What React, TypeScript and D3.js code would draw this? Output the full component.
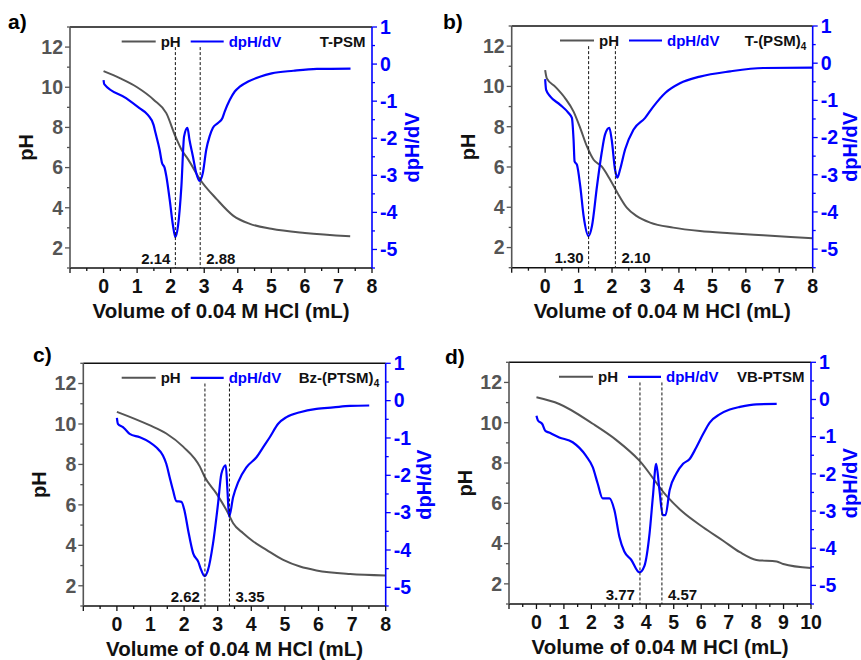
import React from 'react';
import * as d3 from 'd3';

const FONT = '"Liberation Sans", Arial, Helvetica, sans-serif';
const GRAY = '#555555';
const BLUE = '#0000ff';

// ---------- Panel a: T-PSM ----------
const phVolA = [0, 0.5, 1.0, 1.5, 1.87, 2.14, 2.32, 2.52, 2.87, 3.37, 3.86, 4.36, 5.0, 6.0, 7.35];
const phA = [10.8, 10.44, 10.0, 9.37, 8.71, 7.56, 6.9, 6.41, 5.42, 4.43, 3.61, 3.2, 2.95, 2.74, 2.58];
const dVolA = [0, 0.02, 0.67, 1.07, 1.32, 1.49, 1.55, 1.67, 1.74, 1.82, 1.87, 1.97, 2.07, 2.14, 2.22, 2.32, 2.4, 2.5, 2.56, 2.66, 2.76, 2.86, 2.96, 3.06, 3.16, 3.26, 3.41, 3.54, 3.61, 3.76, 3.91, 4.06, 4.31, 4.66, 5.01, 5.66, 6.36, 7.36];
const dA = [-0.43, -0.54, -0.92, -1.19, -1.37, -1.64, -1.86, -2.31, -2.66, -2.8, -3.02, -3.65, -4.36, -4.67, -4.36, -3.29, -1.95, -1.72, -2.04, -2.48, -2.93, -3.15, -2.93, -2.31, -1.95, -1.72, -1.59, -1.46, -1.28, -0.97, -0.74, -0.61, -0.47, -0.34, -0.25, -0.18, -0.13, -0.12];
const eqA = [2.14, 2.88];

// ---------- Panel b: T-(PSM)4 ----------
const phVolB = [0, 0.05, 0.3, 0.6, 0.85, 1.05, 1.25, 1.45, 1.69, 1.94, 2.16, 2.44, 2.74, 3.14, 3.83, 4.63, 5.53, 6.52, 8.0];
const phB = [10.81, 10.4, 9.99, 9.41, 8.75, 7.93, 7.02, 6.36, 6.03, 5.38, 4.72, 3.98, 3.56, 3.24, 2.99, 2.82, 2.71, 2.61, 2.46];
const dVolB = [0, 0.03, 0.15, 0.45, 0.7, 0.8, 0.85, 0.88, 0.95, 1.05, 1.15, 1.3, 1.4, 1.55, 1.69, 1.79, 1.92, 1.99, 2.09, 2.16, 2.24, 2.39, 2.64, 2.99, 3.24, 3.59, 4.03, 4.63, 5.53, 6.52, 8.0];
const dB = [-0.43, -0.72, -0.89, -1.12, -1.34, -1.47, -2.06, -2.64, -2.73, -3.31, -4.11, -4.65, -4.38, -3.31, -2.41, -1.92, -1.74, -2.06, -2.86, -3.08, -2.86, -2.32, -1.79, -1.47, -1.16, -0.8, -0.54, -0.36, -0.22, -0.13, -0.12];
const eqB = [1.3, 2.1];

// ---------- Panel c: Bz-(PTSM)4 ----------
const phVolC = [0, 0.97, 1.47, 1.97, 2.47, 2.61, 2.96, 3.31, 3.46, 3.76, 4.06, 4.45, 4.95, 5.45, 5.94, 6.94, 7.98];
const phC = [10.6, 9.94, 9.53, 8.88, 7.89, 7.39, 6.57, 5.59, 5.09, 4.6, 4.19, 3.78, 3.28, 2.95, 2.76, 2.58, 2.51];
const dVolC = [0, 0.03, 0.18, 0.28, 0.38, 0.68, 0.97, 1.17, 1.37, 1.47, 1.57, 1.67, 1.77, 1.92, 2.02, 2.12, 2.27, 2.42, 2.51, 2.61, 2.71, 2.86, 3.01, 3.11, 3.24, 3.29, 3.34, 3.46, 3.61, 3.86, 4.16, 4.35, 4.55, 4.8, 5.05, 5.45, 5.94, 6.44, 6.94, 7.51];
const dC = [-0.46, -0.62, -0.71, -0.8, -0.89, -0.98, -1.11, -1.25, -1.47, -1.69, -2.05, -2.4, -2.69, -2.71, -2.98, -3.47, -4.09, -4.31, -4.54, -4.7, -4.54, -3.83, -2.76, -1.96, -1.73, -2.4, -3.11, -2.58, -2.18, -1.78, -1.51, -1.25, -0.98, -0.62, -0.44, -0.31, -0.22, -0.18, -0.14, -0.13];
const eqC = [2.62, 3.35];

// ---------- Panel d: VB-PTSM ----------
const phVolD = [0, 0.83, 2.05, 2.9, 3.75, 4.73, 5.3, 6.07, 6.8, 7.41, 8.01, 8.75, 8.99, 10.0];
const phD = [11.26, 10.93, 9.95, 9.15, 8.12, 6.38, 5.6, 4.81, 4.14, 3.57, 3.19, 3.11, 2.99, 2.79];
const dVolD = [0, 0.05, 0.22, 0.32, 0.46, 0.83, 1.32, 1.8, 2.05, 2.23, 2.41, 2.66, 2.84, 3.02, 3.2, 3.45, 3.75, 3.93, 4.12, 4.24, 4.36, 4.48, 4.6, 4.7, 4.85, 5.09, 5.34, 5.58, 5.82, 6.07, 6.31, 6.67, 7.04, 7.41, 8.01, 8.75];
const dD = [-0.44, -0.56, -0.67, -0.84, -0.89, -1.02, -1.15, -1.51, -1.82, -2.26, -2.66, -2.66, -2.98, -3.69, -4.09, -4.31, -4.65, -4.48, -3.6, -2.62, -1.73, -2.44, -3.11, -3.11, -2.44, -2.0, -1.73, -1.6, -1.29, -0.93, -0.62, -0.4, -0.27, -0.2, -0.13, -0.12];
const eqD = [3.77, 4.57];

const phTicks = d3.range(1, 13.001, 1);
const dTicks = d3.range(-5.5, 1.001, 0.5);

type Box = { l: number; r: number; t: number; b: number };
type Spec = {
  tag: string;
  sample: string;
  sub: string;
  xMax: number;
  phVol: number[];
  ph: number[];
  dVol: number[];
  d: number[];
  eq: number[];
  box: Box;
  tagPos: [number, number];
  legendX: number;
  rTitle: number;
};

const panels: Spec[] = [
  { tag: 'a)', sample: 'T-PSM', sub: '', xMax: 8, phVol: phVolA, ph: phA, dVol: dVolA, d: dA, eq: eqA,
    box: { l: 70, r: 372, t: 27, b: 268 }, tagPos: [8, 29], legendX: 51.7, rTitle: 41 },
  { tag: 'b)', sample: 'T-(PSM)', sub: '4', xMax: 8, phVol: phVolB, ph: phB, dVol: dVolB, d: dB, eq: eqB,
    box: { l: 511.7, r: 812.7, t: 26, b: 267.7 }, tagPos: [443, 29], legendX: 48.3, rTitle: 38 },
  { tag: 'c)', sample: 'Bz-(PTSM)', sub: '4', xMax: 8, phVol: phVolC, ph: phC, dVol: dVolC, d: dC, eq: eqC,
    box: { l: 83.3, r: 385.7, t: 363.3, b: 606 }, tagPos: [33, 362], legendX: 38.4, rTitle: 39 },
  { tag: 'd)', sample: 'VB-PTSM', sub: '', xMax: 10, phVol: phVolD, ph: phD, dVol: dVolD, d: dD, eq: eqD,
    box: { l: 509, r: 811, t: 362.3, b: 604 }, tagPos: [445, 364], legendX: 50, rTitle: 40 },
];

function Panel({ p }: { p: Spec }) {
  const { l, r, t, b } = p.box;
  const x = d3.scaleLinear().domain([-1, p.xMax]).range([l, r]);
  const yL = d3.scaleLinear().domain([1, 13]).range([b, t]);
  const yR = d3.scaleLinear().domain([-5.5, 1]).range([b, t]);

  const phPath = d3
    .line<number>()
    .x((_, i) => x(p.phVol[i]))
    .y((v) => yL(v))
    .curve(d3.curveMonotoneX)(p.ph) as string;
  const dPath = d3
    .line<number>()
    .x((_, i) => x(p.dVol[i]))
    .y((v) => yR(v))
    .curve(d3.curveMonotoneX)(p.d) as string;

  const xMinor = d3.range(-1, p.xMax + 0.001, 0.5);
  const xLabels = x.ticks(p.xMax + 1).filter((v) => v >= 0);

  const lx = l + p.legendX;
  const ly = t + 14.5;
  const lb = t + 19.5;
  const ym = (t + b) / 2;

  return (
    <g fontFamily={FONT} fontWeight="bold">
      <text x={p.tagPos[0]} y={p.tagPos[1]} fontSize={21} fill="#000">{p.tag}</text>

      {/* curves */}
      <path d={phPath} fill="none" stroke={GRAY} strokeWidth={2} />
      <path d={dPath} fill="none" stroke={BLUE} strokeWidth={2.2} strokeLinejoin="round" />

      {/* dashed equivalence lines */}
      {p.eq.map((v, i) => (
        <g key={i}>
          <line x1={x(v)} x2={x(v)} y1={yL(12)} y2={b} stroke="#111" strokeWidth={1} strokeDasharray="3,2" />
          <text x={i === 0 ? x(v) - 5 : x(v) + 6} y={b - 4.5} fontSize={15} fill="#111"
            textAnchor={i === 0 ? 'end' : 'start'}>{v.toFixed(2)}</text>
        </g>
      ))}

      {/* frame */}
      <line x1={l} x2={r} y1={t} y2={t} stroke="#111" strokeWidth={1.6} />
      <line x1={l} x2={r} y1={b} y2={b} stroke="#111" strokeWidth={1.6} />
      <line x1={l} x2={l} y1={t} y2={b} stroke={GRAY} strokeWidth={1.6} />
      <line x1={r} x2={r} y1={t} y2={b} stroke={BLUE} strokeWidth={1.6} />

      {/* x axis ticks */}
      {xMinor.map((v) => (
        <line key={v} x1={x(v)} x2={x(v)} y1={b} y2={b + (Number.isInteger(v) ? 5 : 3)} stroke="#111" strokeWidth={1.3} />
      ))}
      {xLabels.map((v) => (
        <text key={v} x={x(v)} y={b + 25} fontSize={19.5} textAnchor="middle" fill="#111">{String(v)}</text>
      ))}
      <text x={(l + r) / 2} y={b + 50} fontSize={20.5} textAnchor="middle" fill="#111">Volume of 0.04 M HCl (mL)</text>

      {/* left axis */}
      {phTicks.map((v) => (
        <line key={v} x1={l - (v % 2 === 0 ? 5 : 3)} x2={l} y1={yL(v)} y2={yL(v)} stroke={GRAY} strokeWidth={1.3} />
      ))}
      {phTicks.filter((v) => v % 2 === 0).map((v) => (
        <text key={v} x={l - 7} y={yL(v)} dy="0.35em" fontSize={19.5} textAnchor="end" fill={GRAY}>{String(v)}</text>
      ))}
      <text transform={`translate(${l - 44},${ym}) rotate(-90)`} fontSize={20} textAnchor="middle" dy="0.35em" fill="#111">pH</text>

      {/* right axis */}
      {dTicks.map((v) => (
        <line key={v} x1={r} x2={r + (Number.isInteger(v) ? 5 : 3)} y1={yR(v)} y2={yR(v)} stroke={BLUE} strokeWidth={1.3} />
      ))}
      {dTicks.filter((v) => Number.isInteger(v)).map((v) => (
        <text key={v} x={r + 8} y={yR(v)} dy="0.35em" fontSize={19.5} textAnchor="start" fill={BLUE}>{String(v)}</text>
      ))}
      <text transform={`translate(${r + p.rTitle},${ym}) rotate(-90)`} fontSize={20} textAnchor="middle" dy="0.32em" fill={BLUE}>dpH/dV</text>

      {/* legend */}
      <line x1={lx} x2={lx + 34} y1={ly} y2={ly} stroke={GRAY} strokeWidth={2} />
      <text x={lx + 39} y={lb} fontSize={15} fill="#111">pH</text>
      <line x1={lx + 69} x2={lx + 102} y1={ly} y2={ly} stroke={BLUE} strokeWidth={2.2} />
      <text x={lx + 107} y={lb} fontSize={15} fill={BLUE}>dpH/dV</text>
      <text x={r - 6.5} y={lb} fontSize={15} textAnchor="end" fill="#111">
        {p.sample}
        {p.sub ? <tspan fontSize={10} dy={4}>{p.sub}</tspan> : null}
      </text>
    </g>
  );
}

export default function App() {
  return (
    <svg width={861} height={660} viewBox="0 0 861 660"
      style={{ position: 'absolute', left: 0, top: 0, background: '#fff' }}>
      <rect width={861} height={660} fill="#fff" />
      {panels.map((p) => (
        <Panel key={p.tag} p={p} />
      ))}
    </svg>
  );
}
